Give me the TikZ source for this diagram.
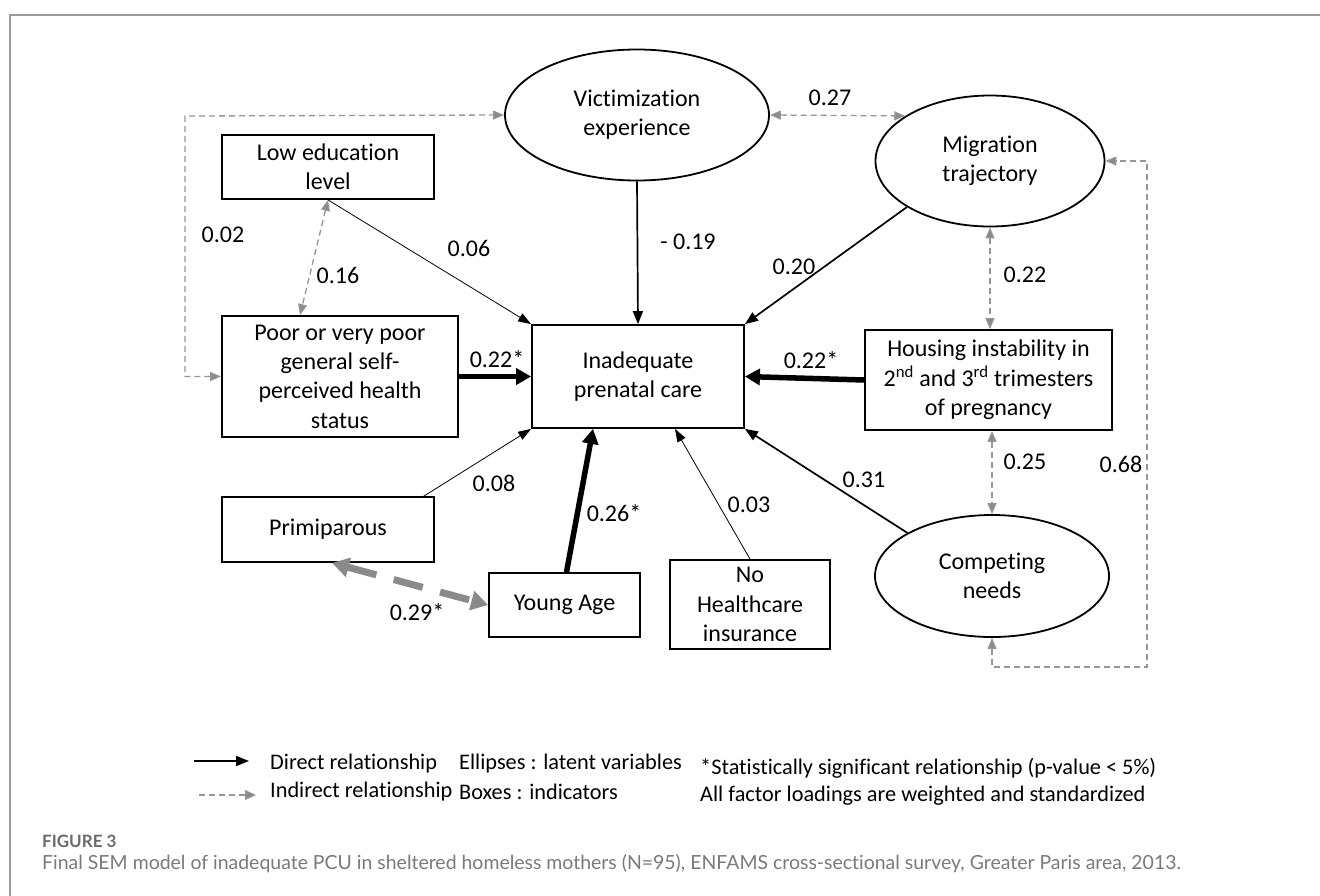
\documentclass[tikz,border=0pt]{standalone}
\usepackage{fontspec}
\setmainfont{Carlito}[Ligatures=NoCommon]
\newfontfamily\capfont{Lato}[Ligatures=NoCommon]
\usetikzlibrary{arrows.meta,shapes.geometric}
\definecolor{dgray}{HTML}{969696}
\definecolor{tgray}{HTML}{8A8A8A}
\definecolor{capgray}{HTML}{7A7A7A}
\definecolor{figgray}{HTML}{6A6A6A}
\definecolor{framegray}{HTML}{9A9A9A}
\begin{document}
\begin{tikzpicture}[x=1pt,y=-1pt,
  every node/.style={font=\fontsize{24}{29.3}\selectfont, inner sep=0pt},
  box/.style={draw=black, line width=1.8pt, align=center},
  latent/.style={draw=black, line width=1.8pt, ellipse, align=center},
  lbl/.style={font=\fontsize{24}{29}\selectfont},
  dirarrow/.style={line width=1.7pt, -{Triangle[length=13pt,width=10pt]}},
  thinarrow/.style={line width=0.8pt, -{Triangle[length=13pt,width=9pt]}},
  thickarrow/.style={line width=5.5pt, -{Triangle[length=15pt,width=16pt]}},
  ind/.style={draw=dgray, line width=1.3pt, dash pattern=on 6pt off 4pt,
     {Triangle[length=11pt,width=9pt,fill=tgray]}-{Triangle[length=11pt,width=9pt,fill=tgray]}},
  indthick/.style={draw=tgray, line width=7pt, dash pattern=on 30pt off 18pt,
     {Triangle[length=17pt,width=19pt]}-{Triangle[length=17pt,width=19pt]}},
  legtext/.style={font=\fontsize{22.3}{26}\selectfont, anchor=west}
]
\useasboundingbox (0,0) rectangle (1320,895);
\fill[white] (0,0) rectangle (1320,895);
\draw[framegray, line width=1.5pt] (1321,15) -- (10,15) -- (10,896);

% nodes
\node[box, minimum width=212pt, minimum height=64pt] (lowedu) at (328,167) {Low education\\level};
\node[box, minimum width=236pt, minimum height=121pt] (poor) at (340,376.5) {Poor or very poor\\general self-\\perceived health\\status};
\node[box, minimum width=212pt, minimum height=103pt] (inad) at (638,376.5) {Inadequate\\prenatal care};
\node[latent, minimum width=264pt, minimum height=131pt] (vict) at (637,115) {Victimization\\experience};
\node[latent, minimum width=229pt, minimum height=131pt] (migr) at (990,161) {Migration\\trajectory};
\node[box, minimum width=247pt, minimum height=100pt] (housing) at (988.5,380) {Housing instability in\\2\textsuperscript{nd} and 3\textsuperscript{rd} trimesters\\of pregnancy};
\node[latent, minimum width=234pt, minimum height=122pt] (comp) at (992,576) {Competing\\needs};
\node[box, minimum width=160pt, minimum height=89pt] (nohc) at (750,604.5) {No\\Healthcare\\insurance};
\node[box, minimum width=212pt, minimum height=65pt] (prim) at (328,529.5) {Primiparous};
\node[box, minimum width=151pt, minimum height=64pt] (young) at (564.5,605) {Young Age};

\coordinate (k02) at (185,116);
\coordinate (k68) at (1147,667);

% direct relationships
\draw[thinarrow] (lowedu.south) -- (inad.north west);
\draw[dirarrow] (vict.south) -- (inad.north);
\draw[dirarrow] (migr.209) -- (inad.north east);
\draw[thickarrow] (poor.east) -- (inad.west);
\draw[thickarrow] (housing.west) -- (inad.east);
\draw[dirarrow] (comp.153) -- (inad.south east);
\draw[thinarrow] (nohc.north) -- ([xshift=37pt]inad.south);
\draw[thickarrow] ([xshift=2pt]young.north) -- ([xshift=-45pt]inad.south);
\draw[thinarrow] ([xshift=-11pt]prim.north east) -- (inad.south west);

% indirect relationships
\draw[ind] (lowedu.south) -- ([xshift=-40pt]poor.north);
\draw[ind] (poor.west) -| (k02) -- (vict.west);
\draw[ind] (vict.east) -- (migr.152);
\draw[ind] (migr.south) -- (migr.south |- housing.north);
\draw[ind] (comp.north |- housing.south) -- (comp.north);
\draw[ind] (comp.south) |- (k68) |- (migr.east);
\draw[indthick] ([xshift=4pt]prim.south) -- (young.west);

% labels
\node[lbl] (l02) at (223,235) {0.02};
\node[lbl] (l16) at (338,275) {0.16};
\node[lbl] (l06) at (469,248) {0.06};
\node[lbl] (l19) at (688,242) {- 0.19};
\node[lbl] (l20) at (794,267) {0.20};
\node[lbl] (l27) at (830,98) {0.27};
\node[lbl] (l22) at (1025,275) {0.22};
\node[lbl] (l22a) at (497,359) {0.22*};
\node[lbl] (l22b) at (811,360) {0.22*};
\node[lbl] (l25) at (1025,462) {0.25};
\node[lbl] (l68) at (1121,464) {0.68};
\node[lbl] (l31) at (864,480) {0.31};
\node[lbl] (l08) at (494,483) {0.08};
\node[lbl] (l03) at (749,505) {0.03};
\node[lbl] (l26) at (614,513) {0.26*};
\node[lbl] (l29) at (417,612) {0.29*};

% legend
\coordinate (a1) at (194,761);
\coordinate (a2) at (249,761);
\coordinate (b1) at (199,795);
\coordinate (b2) at (256,795);
\draw[dirarrow] (a1) -- (a2);
\draw[draw=dgray, line width=1.3pt, dash pattern=on 6pt off 4pt, -{Triangle[length=11pt,width=10pt,fill=tgray]}] (b1) -- (b2);
\node[legtext] (t1) at (270,764) {Direct relationship};
\node[legtext] (t2) at (459,764) {Ellipses : latent variables};
\node[legtext] (t3) at (270,792) {Indirect relationship};
\node[legtext] (t4) at (459,792) {Boxes : indicators};
\node[legtext] (t5) at (700,768) {*Statistically significant relationship (p-value < 5\%)};
\node[legtext] (t6) at (700,796) {All factor loadings are weighted and standardized};

% caption
\node[anchor=west, text=figgray, font=\capfont\bfseries\fontsize{17}{20}\selectfont] (fig) at (42,841) {FIGURE 3};
\node[anchor=west, text=capgray, font=\capfont\fontsize{19.45}{22}\selectfont] (cap) at (42,864) {Final SEM model of inadequate PCU in sheltered homeless mothers (N=95), ENFAMS cross-sectional survey, Greater Paris area, 2013.};
\end{tikzpicture}
\end{document}
